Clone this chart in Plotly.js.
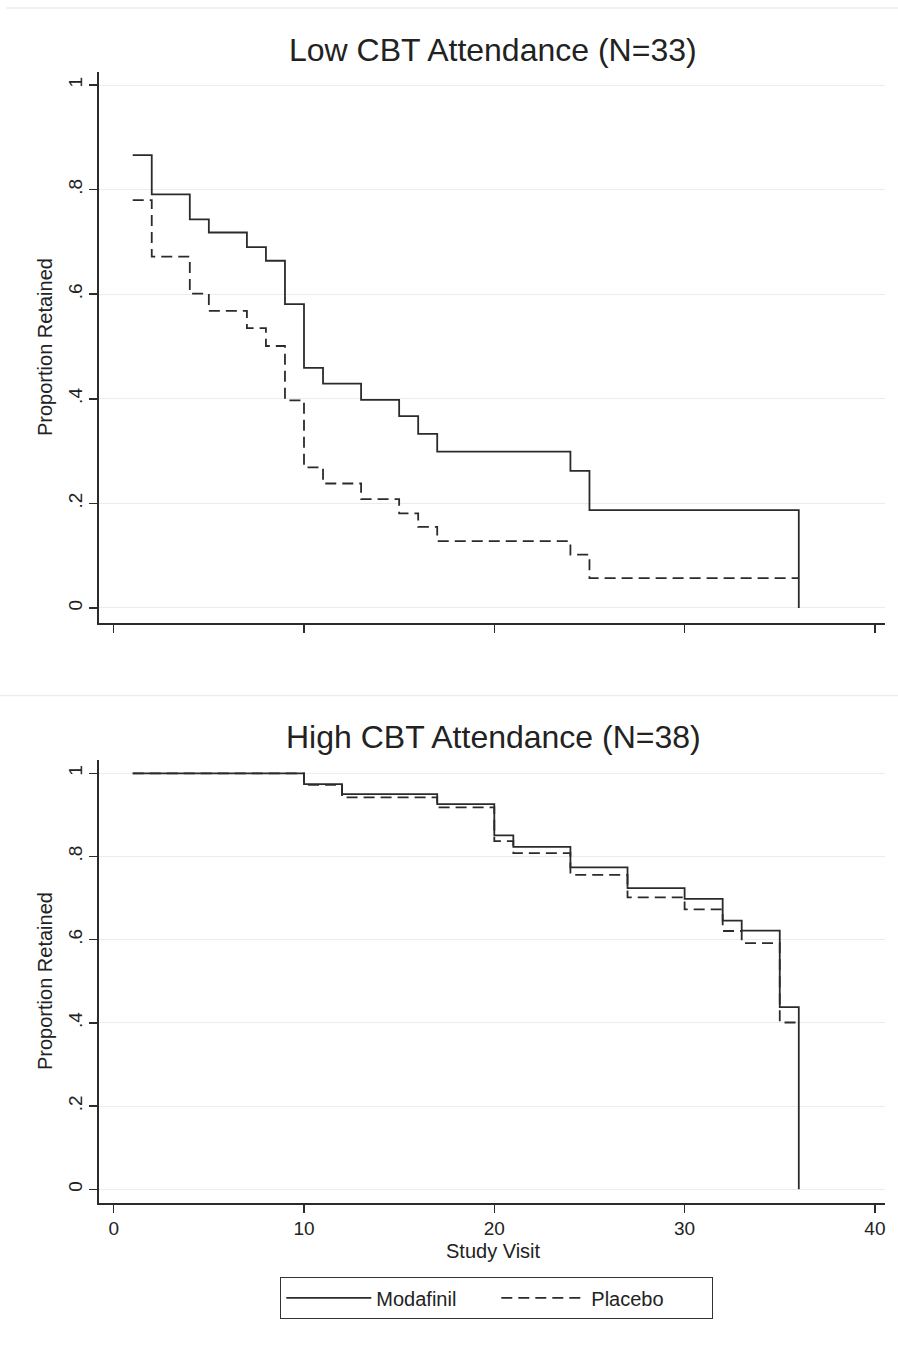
<!DOCTYPE html>
<html>
<head>
<meta charset="utf-8">
<script src="https://cdn.plot.ly/plotly-3.0.1.min.js"></script>
<style>
  html, body { margin: 0; padding: 0; background: #ffffff; overflow: hidden; }
  #chart { width: 898px; height: 1345px; }
</style>
</head>
<body>
<div id="chart"></div>
<script>
// ---- Data ----
var panelTitles = ["Low CBT Attendance (N=33)", "High CBT Attendance (N=38)"];
var seriesNames = ["Modafinil", "Placebo"];

// Low CBT attendance panel
var lowModVisit = [1, 2, 4, 5, 7, 8, 9, 10, 11, 13, 15, 16, 17, 24, 25, 36];
var lowModProp  = [0.866, 0.791, 0.743, 0.718, 0.690, 0.664, 0.581, 0.459, 0.429, 0.398, 0.367, 0.333, 0.299, 0.262, 0.187, 0.0];
var lowPlaVisit = [1, 2, 4, 5, 7, 8, 9, 10, 11, 13, 15, 16, 17, 24, 25, 36];
var lowPlaProp  = [0.780, 0.672, 0.601, 0.568, 0.535, 0.501, 0.397, 0.269, 0.238, 0.208, 0.181, 0.155, 0.128, 0.102, 0.057, 0.057];

// High CBT attendance panel
var highModVisit = [1, 10, 12, 17, 20, 21, 24, 27, 30, 32, 33, 35, 36];
var highModProp  = [1.0, 0.974, 0.950, 0.926, 0.851, 0.823, 0.774, 0.724, 0.698, 0.646, 0.622, 0.438, 0.0];
var highPlaVisit = [1, 10, 12, 17, 20, 21, 24, 27, 30, 32, 33, 35, 36];
var highPlaProp  = [1.0, 0.972, 0.942, 0.918, 0.837, 0.808, 0.756, 0.702, 0.673, 0.621, 0.592, 0.401, 0.401];

// Tick labels
var xTickVals = [0, 10, 20, 30, 40];
var xTickText = ["0", "10", "20", "30", "40"];
var yTickVals = [0, 0.2, 0.4, 0.6, 0.8, 1];
var yTickText = ["0", ".2", ".4", ".6", ".8", "1"];
var xTitle = "Study Visit";
var yTitle = "Proportion Retained";

// ---- Styling ----
var W = 898, H = 1345;
function py(px) { return 1 - px / H; }
var lineColor = "#2b2b2b";
var solidLine = { color: lineColor, width: 1.8, shape: "hv", dash: "solid" };
var dashLine  = { color: lineColor, width: 1.8, shape: "hv", dash: "11px,6px" };
var FONT = "Liberation Sans, Arial, sans-serif";

var traces = [
  { x: lowModVisit, y: lowModProp, mode: "lines", line: solidLine, name: seriesNames[0], xaxis: "x", yaxis: "y", showlegend: true, hoverinfo: "skip" },
  { x: lowPlaVisit, y: lowPlaProp, mode: "lines", line: dashLine, name: seriesNames[1], xaxis: "x", yaxis: "y", showlegend: true, hoverinfo: "skip" },
  { x: highModVisit, y: highModProp, mode: "lines", line: solidLine, name: seriesNames[0], xaxis: "x2", yaxis: "y2", showlegend: false, hoverinfo: "skip" },
  { x: highPlaVisit, y: highPlaProp, mode: "lines", line: dashLine, name: seriesNames[1], xaxis: "x2", yaxis: "y2", showlegend: false, hoverinfo: "skip" }
];

var xDomain = [99 / W, 885 / W];
var xRange = [-0.772, 40.53];

function xAxis(showLabels, anchor) {
  return {
    domain: xDomain, range: xRange, anchor: anchor,
    tickmode: "array", tickvals: xTickVals, ticktext: xTickText,
    showticklabels: showLabels,
    ticks: "outside", ticklen: 8, tickwidth: 1.5, tickcolor: lineColor,
    showline: true, linecolor: lineColor, linewidth: 1.6,
    showgrid: false, zeroline: false,
    tickfont: { family: FONT, size: 19, color: "#222" }
  };
}
function yAxis(domain, range, anchor) {
  return {
    domain: domain, range: range, anchor: anchor,
    tickmode: "array", tickvals: yTickVals, ticktext: yTickText,
    tickangle: -90,
    ticks: "outside", ticklen: 8, tickwidth: 1.5, tickcolor: lineColor,
    showline: true, linecolor: lineColor, linewidth: 1.6,
    showgrid: true, gridcolor: "#ececec", gridwidth: 1,
    zeroline: false,
    tickfont: { family: FONT, size: 19, color: "#222" }
  };
}

var layout = {
  width: W, height: H,
  margin: { l: 0, r: 0, t: 0, b: 0 },
  paper_bgcolor: "#ffffff", plot_bgcolor: "#ffffff",
  font: { family: FONT, color: "#222" },
  xaxis: xAxis(false, "y"),
  yaxis: yAxis([py(623), py(72)], [-0.0287, 1.0249], "x"),
  xaxis2: xAxis(true, "y2"),
  yaxis2: yAxis([py(1203), py(760)], [-0.0329, 1.032], "x2"),
  showlegend: true,
  legend: {
    orientation: "h",
    x: 280 / W, xanchor: "left",
    y: py(1277), yanchor: "top",
    bordercolor: "#333", borderwidth: 1.3,
    bgcolor: "#ffffff",
    itemwidth: 85,
    entrywidth: 115,
    font: { family: FONT, size: 20, color: "#222" },
    tracegroupgap: 0
  },
  annotations: [
    { text: panelTitles[0], xref: "paper", yref: "paper", x: 493 / W, y: py(50), xanchor: "center", yanchor: "middle", showarrow: false, font: { family: FONT, size: 32, color: "#222" } },
    { text: panelTitles[1], xref: "paper", yref: "paper", x: 493 / W, y: py(737), xanchor: "center", yanchor: "middle", showarrow: false, font: { family: FONT, size: 32, color: "#222" } },
    { text: yTitle, xref: "paper", yref: "paper", x: 45 / W, y: py(347), xanchor: "center", yanchor: "middle", textangle: -90, showarrow: false, font: { family: FONT, size: 20, color: "#222" } },
    { text: yTitle, xref: "paper", yref: "paper", x: 45 / W, y: py(981), xanchor: "center", yanchor: "middle", textangle: -90, showarrow: false, font: { family: FONT, size: 20, color: "#222" } },
    { text: xTitle, xref: "paper", yref: "paper", x: 493 / W, y: py(1251), xanchor: "center", yanchor: "middle", showarrow: false, font: { family: FONT, size: 20, color: "#222" } }
  ],
  shapes: [
    { type: "line", xref: "paper", yref: "paper", x0: 6 / W, x1: 1, y0: py(8), y1: py(8), line: { color: "#eeeeee", width: 1.5 } },
    { type: "line", xref: "paper", yref: "paper", x0: 0, x1: 1, y0: py(695.5), y1: py(695.5), line: { color: "#eeeeee", width: 1.5 } }
  ]
};

Plotly.newPlot("chart", traces, layout, { staticPlot: true, displayModeBar: false });
</script>
</body>
</html>
